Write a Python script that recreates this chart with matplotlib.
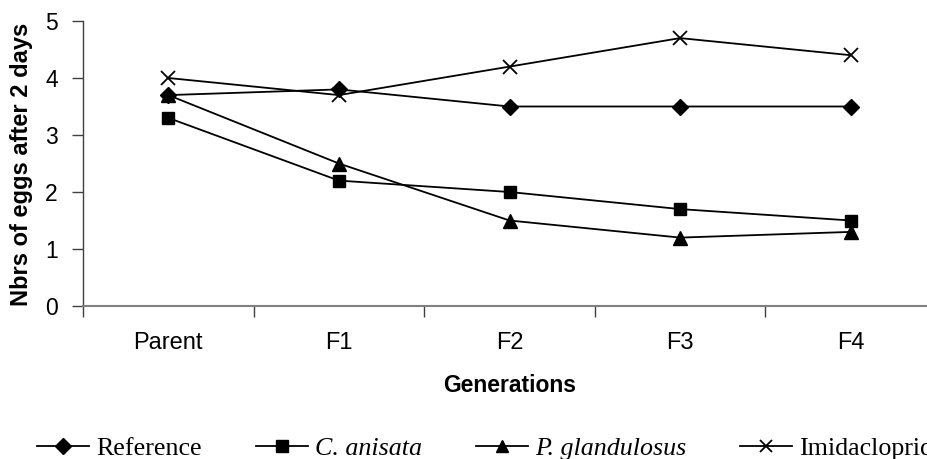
import numpy as np
import matplotlib
matplotlib.use("Agg")
import matplotlib.pyplot as plt

# DATA
generations = ["Parent", "F1", "F2", "F3", "F4"]
reference = [3.7, 3.8, 3.5, 3.5, 3.5]
c_anisata = [3.3, 2.2, 2.0, 1.7, 1.5]
p_glandulosus = [3.7, 2.5, 1.5, 1.2, 1.3]
imidacloprid = [4.0, 3.7, 4.2, 4.7, 4.4]

W, H = 928, 459
fig = plt.figure(figsize=(W / 100, H / 100), dpi=100)
ax = fig.add_axes([83 / W, 1 - 306 / H, (936 - 83) / W, (306 - 21) / H])

x = np.arange(len(generations)) + 0.5
lw = 1.3
l1, = ax.plot(x, reference, color="black", lw=lw, marker="D", ms=8)
l2, = ax.plot(x, c_anisata, color="black", lw=lw, marker="s", ms=9)
l3, = ax.plot(x, p_glandulosus, color="black", lw=lw, marker="^", ms=10)
l4, = ax.plot(x, imidacloprid, color="black", lw=lw, marker="x", ms=10, mew=1.3)

ax.set_xlim(0, len(generations))
ax.set_ylim(0, 5)

# category boundaries as major ticks, names on minor ticks
ax.set_xticks(np.arange(len(generations) + 1))
ax.set_xticklabels([])
ax.set_xticks(x, minor=True)
ax.set_xticklabels(generations, minor=True, fontsize=17, family="Liberation Sans")
ax.tick_params(axis="x", which="major", direction="out", length=8, width=1, color="#404040")
ax.tick_params(axis="x", which="minor", length=0, pad=19)

ax.set_yticks(range(6))
ax.set_yticklabels([str(v) for v in range(6)], fontsize=16.5, family="Liberation Sans")
ax.tick_params(axis="y", direction="out", length=8, width=1, color="#404040", pad=10)

for s in ["top", "right"]:
    ax.spines[s].set_visible(False)
ax.spines["bottom"].set_color("#808080")
ax.spines["bottom"].set_linewidth(1.5)
ax.spines["left"].set_color("#404040")
ax.spines["left"].set_linewidth(1)

fig.text(510 / W, 1 - 385 / H, "Generations", ha="center", va="center",
         fontsize=16.5, fontweight="bold", family="Liberation Sans")
fig.text(22 / W, 1 - 164 / H, "Nbrs of eggs after 2 days", ha="center", va="center",
         rotation=90, fontsize=17, fontweight="bold", family="Liberation Sans")

leg = fig.legend([l1, l2, l3, l4],
                 ["Reference", "C. anisata", "P. glandulosus", "Imidacloprid"],
                 loc="center left", bbox_to_anchor=(37 / W, 1 - 448 / H),
                 ncol=4, frameon=False, borderpad=0, borderaxespad=0,
                 handlelength=2.0, handletextpad=0.3, columnspacing=2.05,
                 prop={"family": "Liberation Serif", "size": 18.7})
for i, t in enumerate(leg.get_texts()):
    if i in (1, 2):
        t.set_fontstyle("italic")
for h in leg.legend_handles:
    h.set_markersize(8)

fig.savefig("out.png", dpi=100)
